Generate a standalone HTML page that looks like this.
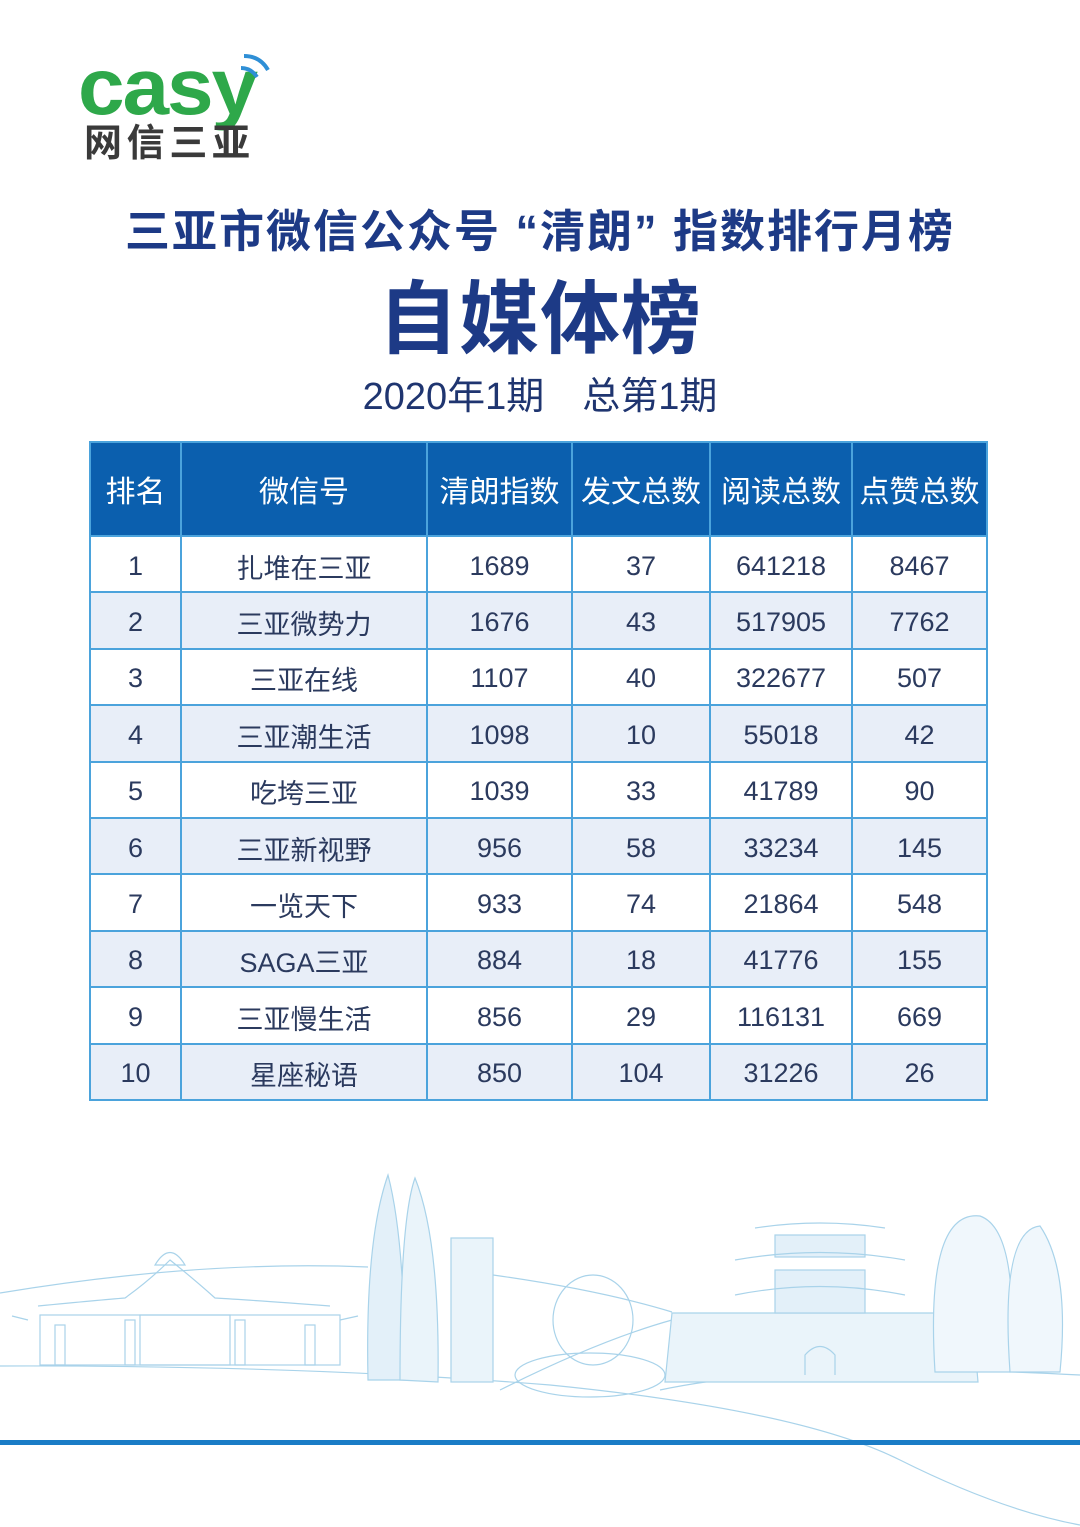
<!DOCTYPE html>
<html><head><meta charset="utf-8"><style>
html,body{margin:0;width:1080px;height:1527px;overflow:hidden}
body{background:#fff;position:relative;font-family:"Liberation Sans","Noto Sans CJK SC",sans-serif}
.t{position:absolute;left:0;width:1080px;text-align:center;white-space:nowrap;line-height:1.2}
table{position:absolute;left:89px;top:441px;border-collapse:collapse;table-layout:fixed}
td,th{border:2px solid #4ba3dc;text-align:center;padding:0;color:#2b3a5e;font-size:27px;font-weight:normal}
th{background:#0b5fae;color:#fff;height:94px;font-size:30px;box-sizing:border-box}
td{height:56.4px;padding-top:4px;box-sizing:border-box}
tr:nth-child(odd) td{background:#e8eef8}
</style></head><body>
<svg style="position:absolute;left:78px;top:48px" width="200" height="120">
<text x="0" y="66" font-family="Liberation Sans,sans-serif" font-weight="bold" font-size="80" fill="#2ea84a" letter-spacing="-2" textLength="178" lengthAdjust="spacingAndGlyphs">casy</text>
<path d="M163 20 q10 0 16 9" stroke="#2f8fd6" stroke-width="4" fill="none"/>
<path d="M166 8 q16 0 24 14" stroke="#2f8fd6" stroke-width="4" fill="none"/>
<text x="6" y="108" font-family="Noto Sans CJK SC,sans-serif" font-weight="bold" font-size="38" fill="#3a3a3a" textLength="166" lengthAdjust="spacing">网信三亚</text>
</svg>
<div class="t" style="top:205px;font-size:45px;font-weight:bold;color:#1d3a86;letter-spacing:2px">三亚市微信公众号 “清朗” 指数排行月榜</div>
<div class="t" style="top:272px;font-size:80px;font-weight:bold;color:#1d3a86;letter-spacing:1px;line-height:96px">自媒体榜</div>
<div class="t" style="top:375px;font-size:38px;color:#1f3570">2020年1期　总第1期</div>
<table>
<colgroup><col style="width:91px"><col style="width:246px"><col style="width:145px"><col style="width:138px"><col style="width:142px"><col style="width:135px"></colgroup>
<tr><th>排名</th><th>微信号</th><th>清朗指数</th><th>发文总数</th><th>阅读总数</th><th>点赞总数</th></tr>
<tr><td>1</td><td>扎堆在三亚</td><td>1689</td><td>37</td><td>641218</td><td>8467</td></tr>
<tr><td>2</td><td>三亚微势力</td><td>1676</td><td>43</td><td>517905</td><td>7762</td></tr>
<tr><td>3</td><td>三亚在线</td><td>1107</td><td>40</td><td>322677</td><td>507</td></tr>
<tr><td>4</td><td>三亚潮生活</td><td>1098</td><td>10</td><td>55018</td><td>42</td></tr>
<tr><td>5</td><td>吃垮三亚</td><td>1039</td><td>33</td><td>41789</td><td>90</td></tr>
<tr><td>6</td><td>三亚新视野</td><td>956</td><td>58</td><td>33234</td><td>145</td></tr>
<tr><td>7</td><td>一览天下</td><td>933</td><td>74</td><td>21864</td><td>548</td></tr>
<tr><td>8</td><td>SAGA三亚</td><td>884</td><td>18</td><td>41776</td><td>155</td></tr>
<tr><td>9</td><td>三亚慢生活</td><td>856</td><td>29</td><td>116131</td><td>669</td></tr>
<tr><td>10</td><td>星座秘语</td><td>850</td><td>104</td><td>31226</td><td>26</td></tr>
</table>
<svg style="position:absolute;left:0;top:1160px" width="1080" height="367" fill="none" stroke="#a9d3ea" stroke-width="1.2">
<path d="M0 133 Q200 100 368 107"/>
<path d="M493 115 Q600 130 672 152"/>
<path d="M0 206 Q300 205 550 225 Q800 250 900 300 T1080 365"/>
<path d="M660 230 Q800 200 1080 215"/>
<path d="M500 230 Q600 180 672 160"/>
<path d="M12 156 L28 160 M358 156 L340 160 M38 146 Q100 140 125 138 Q150 120 170 100 Q195 120 215 138 Q250 140 330 146"/>
<rect x="40" y="155" width="300" height="50"/>
<path d="M155 105 q15 -25 30 0 z"/>
<rect x="140" y="155" width="90" height="50"/>
<rect x="55" y="165" width="10" height="40"/><rect x="125" y="160" width="10" height="45"/><rect x="235" y="160" width="10" height="45"/><rect x="305" y="165" width="10" height="40"/>
<path d="M368 220 Q365 80 388 15 Q405 80 405 220 z" fill="#e3f0f9"/>
<path d="M400 220 Q400 60 415 18 Q440 80 438 222 z" fill="#eaf4fa"/>
<rect x="451" y="78" width="42" height="144" fill="#eaf4fa"/>
<ellipse cx="593" cy="160" rx="40" ry="45"/>
<ellipse cx="590" cy="215" rx="75" ry="22"/>
<path d="M665 222 L672 153 H972 L978 222 z" fill="#eaf4fa"/>
<rect x="775" y="110" width="90" height="43" fill="#e3f0f9"/>
<rect x="775" y="75" width="90" height="22" fill="#e3f0f9"/>
<path d="M735 135 Q820 118 905 135 M735 100 Q820 85 905 100 M755 68 Q820 58 885 68"/>
<path d="M805 215 V195 Q820 178 835 195 V215"/>
<path d="M935 212 Q925 50 980 56 Q1020 70 1010 212 z" fill="#f0f7fc"/>
<path d="M1010 212 Q1000 70 1040 66 Q1070 110 1060 212 z" fill="#f0f7fc"/>
</svg>
<div style="position:absolute;left:0;top:1440px;width:1080px;height:5px;background:#1a7cc6"></div>
</body></html>
